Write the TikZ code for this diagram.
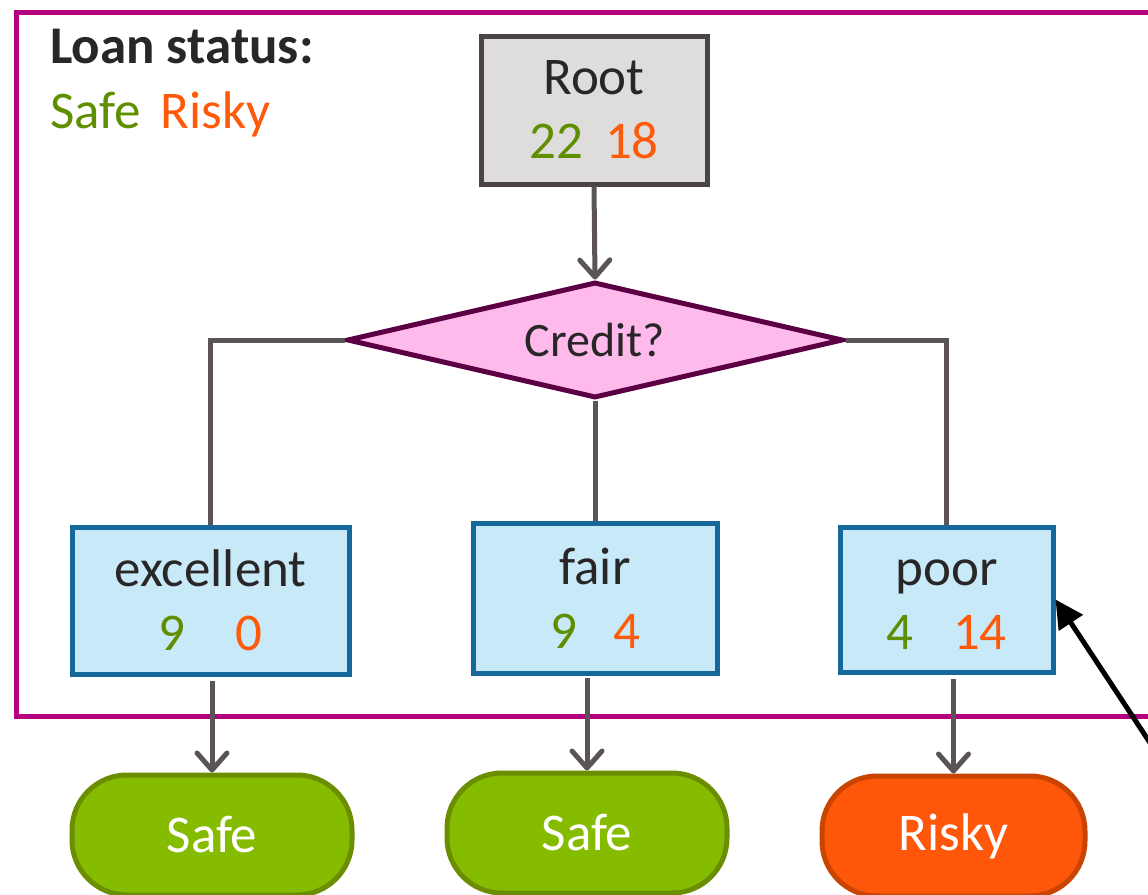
\documentclass[tikz,border=0pt]{standalone}
\usepackage{fontspec}
\setmainfont{Carlito}
\usetikzlibrary{shapes.geometric,arrows.meta,calc}

\definecolor{framecol}{HTML}{B2007F}
\definecolor{ink}{HTML}{282626}
\definecolor{conn}{HTML}{5A5456}
\definecolor{rootfill}{HTML}{DEDDDC}
\definecolor{rootline}{HTML}{4A4446}
\definecolor{qfill}{HTML}{FFBAEC}
\definecolor{qline}{HTML}{5C0044}
\definecolor{leaffill}{HTML}{C7E9F8}
\definecolor{leafline}{HTML}{16679A}
\definecolor{safetext}{HTML}{5F8F00}
\definecolor{riskytext}{HTML}{FF5A0A}
\definecolor{safefill}{HTML}{86BC00}
\definecolor{safeline}{HTML}{6A8E00}
\definecolor{riskyfill}{HTML}{FF570A}
\definecolor{riskyline}{HTML}{C84400}

\begin{document}
\begin{tikzpicture}[x=1pt,y=-1pt,
  bigfont/.style={font=\fontsize{53}{64}\selectfont},
  txt/.style={bigfont, text=ink, inner sep=0pt},
  framebox/.style={draw=framecol, line width=4.5pt, inner sep=0pt},
  rootbox/.style={txt, rectangle, fill=rootfill, draw=rootline, line width=5pt, align=center},
  question/.style={txt, font=\fontsize{48}{58}\selectfont, diamond, aspect=4.3,
                   fill=qfill, draw=qline, line width=5pt},
  leaf/.style={txt, rectangle, fill=leaffill, draw=leafline, line width=5pt, align=center},
  outcome/.style={bigfont, text=white, rounded corners=55pt, line width=5pt, inner sep=0pt,
                  minimum height=120pt},
  safeout/.style={outcome, fill=safefill, draw=safeline},
  riskyout/.style={outcome, fill=riskyfill, draw=riskyline},
  link/.style={draw=conn, line width=5pt},
  flow/.style={link, -{Straight Barb[length=17pt,width=30pt,line width=5pt,round]}},
  pointer/.style={draw=black, line width=5pt, -{Triangle[length=28pt,width=28pt]}},
]
\useasboundingbox (0,0) rectangle (1148,894);

% outer frame
\node[framebox, anchor=north west, minimum width=1200pt, minimum height=704pt] (frame) at (14,10) {};

% legend
\node[txt, anchor=base west, font=\fontsize{53}{64}\selectfont\bfseries] (legtitle) at (50,63) {Loan status:};
\node[txt, anchor=base west] (legkeys) at (50,128)
  {{\color{safetext}Safe}\hspace{20pt}{\color{riskytext}Risky}};

% tree nodes
\node[rootbox, minimum width=226pt, minimum height=148pt] (root) at (594,110)
  {Root\\{\color{safetext}22}\hspace{22pt}{\color{riskytext}18}};
\node[question, minimum width=496pt, minimum height=116pt] (credit) at (595,340) {Credit?};

\node[leaf, minimum width=277pt, minimum height=147pt] (ex) at (210.5,600.5)
  {excellent\\{\color{safetext}9}\hspace{50pt}{\color{riskytext}0}};
\node[leaf, minimum width=244pt, minimum height=150pt] (fair) at (595,598)
  {fair\\{\color{safetext}9}\hspace{36pt}{\color{riskytext}4}};
\node[leaf, minimum width=213pt, minimum height=145pt] (poor) at (946.5,599.5)
  {\vphantom{l}poor\\{\color{safetext}4}\hspace{40pt}{\color{riskytext}14}};

% decisions
\node[safeout, minimum width=280pt] (s1) at (212,835) {Safe};
\node[safeout, minimum width=280pt] (s2) at (587,833) {Safe};
\node[riskyout, minimum width=263pt] (r1) at (953.5,836) {Risky};

% connectors
\draw[flow] (root.south) -- (credit.north);
\draw[link] (credit.west) -| (ex.north);
\draw[link] (credit.south) -- (fair.north);
\draw[link] (credit.east) -| (poor.north);

\draw[flow] ([yshift=-4pt]ex.south -| s1.north) -- (s1.north);
\draw[flow] ([yshift=-2pt]fair.south -| s2.north) -- (s2.north);
\draw[flow] ([yshift=-4pt]poor.south -| r1.north) -- (r1.north);

% pointer into the poor branch
\coordinate (ptrtail) at (1168,770);
\draw[pointer] (ptrtail) -- (poor.east);
\end{tikzpicture}
\end{document}
